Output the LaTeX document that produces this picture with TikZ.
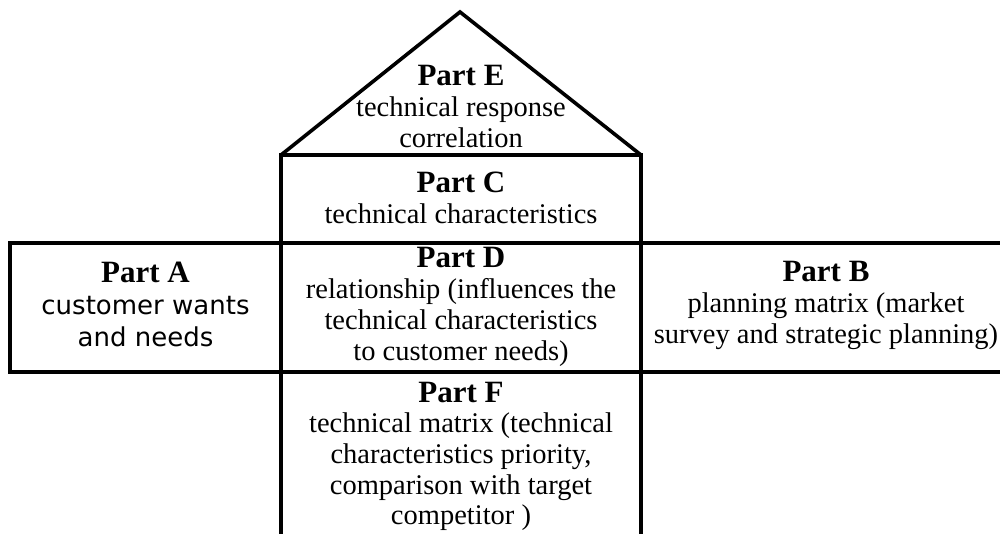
\documentclass[tikz,border=0pt]{standalone}
\usepackage{fontspec}
\setmainfont{Liberation Serif}
\newfontfamily\sansA{DejaVu Sans}
\setlength{\tabcolsep}{0pt}
\newcommand{\pt}[1]{{\bfseries\fontsize{31}{30.7}\selectfont #1}}
\begin{document}
\begin{tikzpicture}[x=1pt,y=-1pt,
  edge/.style={line width=3.6pt, line join=miter},
  txt/.style={anchor=base, inner sep=0pt, font=\fontsize{28.5}{30.7}\selectfont},
  txtA/.style={anchor=base, inner sep=0pt, font=\sansA\fontsize{26}{32}\selectfont}]
\useasboundingbox (0,0) rectangle (1000,534);
\clip (0,0) rectangle (1000,534);
% corner coordinates
\coordinate (apex) at (460,12);
\coordinate (cTL) at (281,155);
\coordinate (cTR) at (641,155);
\coordinate (dTL) at (281,243);
\coordinate (dBR) at (641,372);
\coordinate (aTL) at (10,243);
\coordinate (aBR) at (281,372);
\coordinate (bTL) at (641,243);
\coordinate (bBR) at (1012,372);
\coordinate (fTL) at (281,372);
\coordinate (fBR) at (641,545);
% shapes
\draw[edge] (cTL) -- (apex) -- (cTR);
\draw[edge] (cTL) rectangle (dTL -| cTR);
\draw[edge] (aTL) rectangle (aBR);
\draw[edge] (dTL) rectangle (dBR);
\draw[edge] (bTL) rectangle (bBR);
\draw[edge] (fTL) rectangle (fBR);
% texts
\node[txt] (E) at (461,86) {\begin{tabular}[t]{c}\pt{Part E}\\ technical response\\ correlation\end{tabular}};
\node[txt] (C) at (461,193) {\begin{tabular}[t]{c}\pt{Part C}\\ technical characteristics\end{tabular}};
\node[txt] (D) at (461,268) {\begin{tabular}[t]{c}\pt{Part D}\\ relationship (influences the\\ technical characteristics\\ to customer needs)\end{tabular}};
\node[txtA] (A) at (145.5,283) {\begin{tabular}[t]{c}\pt{\rmfamily Part A}\\ customer wants\\ and needs\end{tabular}};
\node[txt] (B) at (826,282) {\begin{tabular}[t]{c}\pt{Part B}\\ planning matrix (market\\ survey and strategic planning)\end{tabular}};
\node[txt] (F) at (461,402) {\begin{tabular}[t]{c}\pt{Part F}\\ technical matrix (technical\\ characteristics priority,\\ comparison with target\\ competitor )\end{tabular}};
\end{tikzpicture}
\end{document}
